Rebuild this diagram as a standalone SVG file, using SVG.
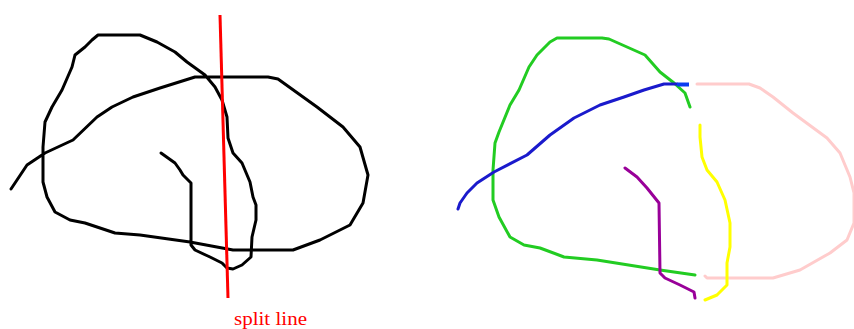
<svg xmlns="http://www.w3.org/2000/svg" width="854" height="329" viewBox="0 0 854 329">
<style>
.s{fill:none;stroke-width:3;stroke-linejoin:round;stroke-linecap:round}
</style>
<rect width="854" height="329" fill="#ffffff"/>
<g id="original">
<path class="s" stroke="#000000" d="M161,153 L168,158 L175,163 L180,170 L183,175 L191,183 L191,245 L195,250 L210,257 L222,263 L227,268 L233,269 L242,265 L251,257 L252,237 L256,220 L256,205 L253,197 L250,182 L242,163 L233,153 L228,138 L227,117 L222,100 L215,87 L205,75 L187,62 L175,52 L157,42 L140,35 L98,35 L92,40 L85,47 L75,55 L72,67 L62,90 L52,107 L45,122 L43,147 L43,182 L47,197 L55,212 L70,220 L85,223 L115,233 L140,235 L190,242 L233,250 L293,250 L320,240 L350,225 L363,203 L368,175 L360,147 L343,127 L317,107 L278,79 L268,77 L195,77 L160,88 L133,97 L112,107 L97,117 L73,140 L45,153 L27,165 L17,180 L11,189"/>
<line x1="220" y1="15" x2="228" y2="298" stroke="#ff0000" stroke-width="3"/>
<text x="234" y="325" font-family="'Liberation Serif', serif" font-size="19" fill="#ff0000" textLength="73" lengthAdjust="spacingAndGlyphs">split line</text>
</g>
<g id="split">
<path class="s" stroke="#ffcccc" d="M697,84 L749,84 L760,88 L773,97 L793,113 L827,138 L840,153 L850,177 L854,193 L854,223 L847,240 L830,253 L800,270 L773,278 L707,278 L705,276"/>
<path class="s" stroke="#22cc22" d="M690,107 L685,93 L674,83 L660,72 L645,55 L627,47 L609,39 L602,38 L557,38 L550,42 L537,55 L529,67 L519,90 L510,105 L499,132 L495,143 L493,170 L493,200 L499,217 L510,237 L524,245 L540,248 L564,257 L597,260 L660,270 L695,275"/>
<path class="s" stroke="#1a1acc" d="M677,84 L664,84 L644,90 L624,97 L600,105 L574,118 L550,135 L527,155 L494,172 L477,183 L467,193 L460,203 L458,209"/>
<line x1="677" y1="84.5" x2="689" y2="84.5" stroke="#0a3cf0" stroke-width="4"/>
<path class="s" stroke="#ffff00" d="M700,125 L700,137 L702,157 L707,170 L717,182 L725,200 L730,223 L730,247 L727,263 L727,285 L717,295 L705,300"/>
<path class="s" stroke="#990099" d="M625,168 L637,177 L647,188 L659,203 L660,273 L665,278 L680,285 L694,292 L695,298"/>
</g>
</svg>
